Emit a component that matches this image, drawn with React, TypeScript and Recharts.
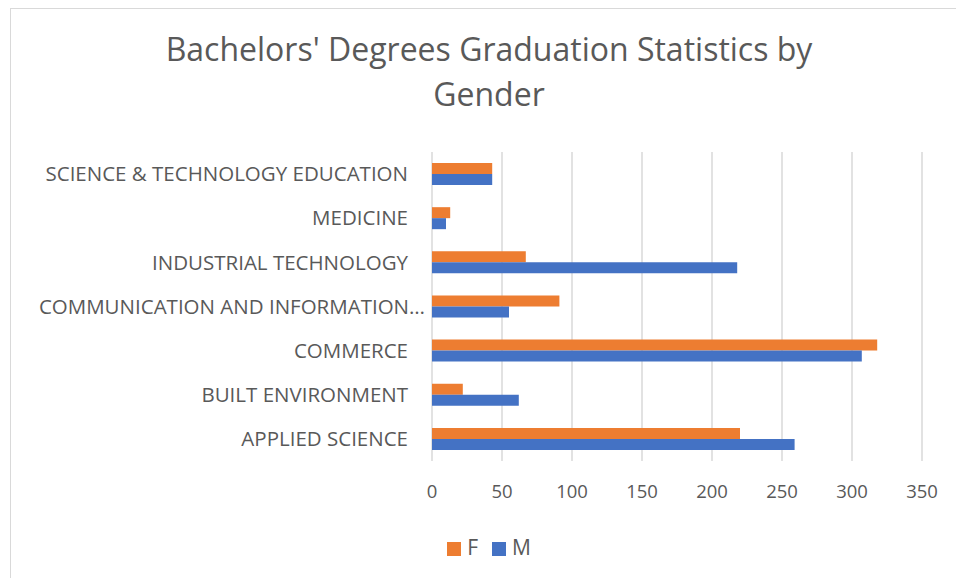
import React from "react";
import {
  BarChart,
  Bar,
  XAxis,
  YAxis,
  CartesianGrid,
  Legend,
} from "recharts";

// Categories listed top to bottom as they appear in the chart.
const categories = [
  "SCIENCE & TECHNOLOGY EDUCATION",
  "MEDICINE",
  "INDUSTRIAL TECHNOLOGY",
  "COMMUNICATION AND INFORMATION TECHNOLOGY",
  "COMMERCE",
  "BUILT ENVIRONMENT",
  "APPLIED SCIENCE",
];
const femaleValues = [43, 13, 67, 91, 318, 22, 220];
const maleValues = [43, 10, 218, 55, 307, 62, 259];
const xTicks = [0, 50, 100, 150, 200, 250, 300, 350];

const data = categories.map((name, i) => ({
  name,
  F: femaleValues[i],
  M: maleValues[i],
}));

const TEXT = "#595959";
const FONT = "'Open Sans', sans-serif";
const MAX_LABEL = 30;

// Excel clips long category names with an ellipsis; that label also sits a
// bit further right than the others.
function CategoryTick(props: any) {
  const { x, y, payload } = props;
  const full = String(payload.value);
  const clipped = full.length > MAX_LABEL;
  const label = clipped ? full.slice(0, 29) + "…" : full;
  return (
    <text
      x={clipped ? x + 17 : x}
      y={y}
      dy="0.35em"
      textAnchor="end"
      fill={TEXT}
      fontFamily={FONT}
      fontSize={20.5}
    >
      {label}
    </text>
  );
}

export default function App() {
  return (
    <div
      style={{
        position: "absolute",
        left: 0,
        top: 0,
        width: 956,
        height: 578,
        background: "#fff",
        overflow: "hidden",
      }}
    >
      {/* chart frame, only top and left edges fall inside the picture */}
      <div
        style={{
          position: "absolute",
          left: 10,
          top: 8,
          width: 1000,
          height: 700,
          border: "1px solid #D9D9D9",
          boxSizing: "border-box",
        }}
      />
      <div
        style={{
          position: "absolute",
          left: 89,
          width: 800,
          top: 26,
          textAlign: "center",
          fontFamily: FONT,
          fontSize: 32,
          lineHeight: "45px",
          color: TEXT,
        }}
      >
        Bachelors' Degrees Graduation Statistics by
        <br />
        Gender
      </div>
      <BarChart
        width={956}
        height={578}
        data={data}
        layout="vertical"
        margin={{ top: 152, right: 34, left: 0, bottom: 57 }}
        barCategoryGap="25%"
        barGap={0}
        style={{ position: "absolute", left: 0, top: 0 }}
      >
        <CartesianGrid horizontal={false} stroke="#D9D9D9" strokeWidth={1.5} />
        <XAxis
          type="number"
          domain={[0, 350]}
          ticks={xTicks}
          axisLine={false}
          tickLine={false}
          tickMargin={18}
          height={60}
          tick={{ fill: TEXT, fontFamily: FONT, fontSize: 18.5 }}
        />
        <YAxis
          type="category"
          dataKey="name"
          width={432}
          axisLine={false}
          tickLine={false}
          tickMargin={18}
          interval={0}
          tick={<CategoryTick />}
        />
        <Legend
          verticalAlign="middle"
          align="center"
          iconType="square"
          iconSize={14}
          wrapperStyle={{
            top: 533,
            left: 18,
            width: 956,
            fontFamily: FONT,
            fontSize: 21,
          }}
          formatter={(value) => (
            <span style={{ color: TEXT, marginLeft: 2, marginRight: 4 }}>{value}</span>
          )}
        />
        <Bar dataKey="F" fill="#ED7D31" isAnimationActive={false} />
        <Bar dataKey="M" fill="#4472C4" isAnimationActive={false} />
      </BarChart>
    </div>
  );
}
